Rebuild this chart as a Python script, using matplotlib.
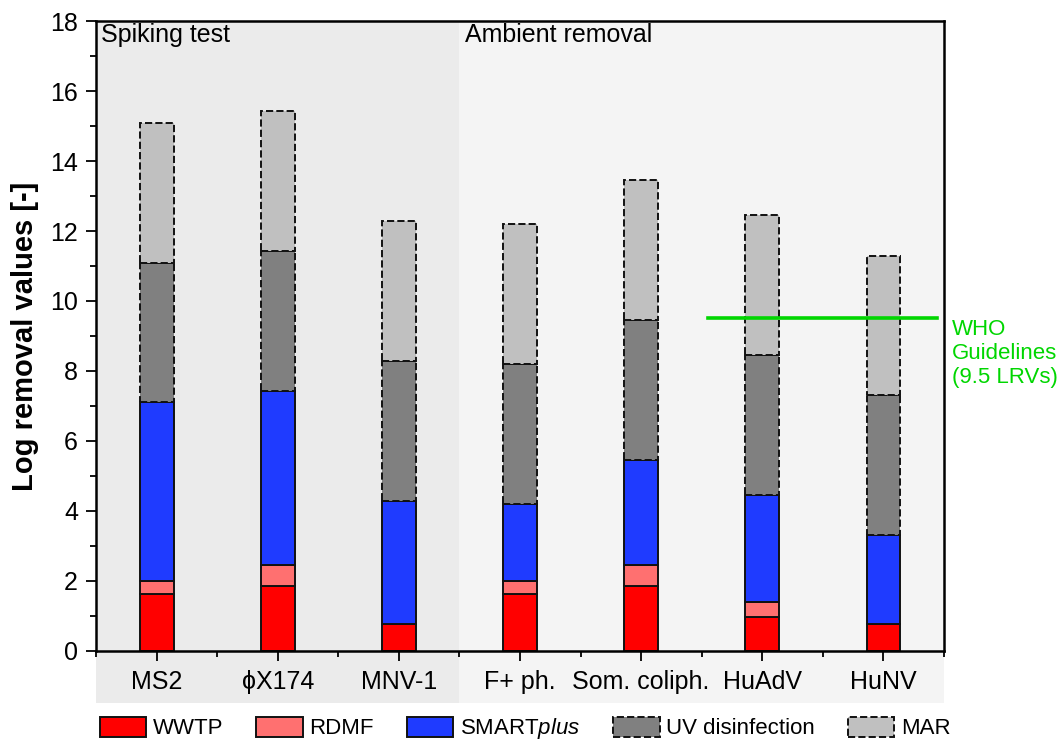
import numpy as np
import matplotlib
matplotlib.use("Agg")
import matplotlib.pyplot as plt
from matplotlib.patches import Patch

plt.rcParams["font.family"] = ["Liberation Sans", "DejaVu Sans"]
plt.rcParams["mathtext.fontset"] = "custom"
plt.rcParams["mathtext.rm"] = "Liberation Sans"
plt.rcParams["mathtext.it"] = "Liberation Sans:italic"

# data (log removal per treatment step, stacked)
categories = ["MS2", "\u03d5X174", "MNV-1", "F+ ph.", "Som. coliph.", "HuAdV", "HuNV"]
wwtp = [1.63, 1.86, 0.77, 1.63, 1.86, 0.98, 0.77]
rdmf = [0.37, 0.60, 0.00, 0.37, 0.60, 0.43, 0.00]
smartplus = [5.10, 4.98, 3.51, 2.20, 3.00, 3.06, 2.53]
uv = [4.0, 4.0, 4.0, 4.0, 4.0, 4.0, 4.0]
mar = [4.0, 4.0, 4.0, 4.0, 4.0, 4.0, 4.0]
who_lrv = 9.5

RED = "#ff0000"
SALMON = "#ff7070"
BLUE = "#1f3bff"
DARK = "#808080"
LIGHT = "#c0c0c0"
GREEN = "#00d600"
FS = 18

fig = plt.figure(figsize=(10.6, 7.4), dpi=100)
ax = fig.add_axes([0.0906, 0.1203, 0.8, 0.8513])

x = np.arange(len(categories))
w = 0.28

# shaded groups, extended under the tick labels
ax.axvspan(-0.5, 2.5, ymin=-0.083, ymax=1, color="#ebebeb", lw=0, clip_on=False, zorder=0)
ax.axvspan(2.5, 6.5, ymin=-0.083, ymax=1, color="#f4f4f4", lw=0, clip_on=False, zorder=0)

bottom = np.zeros(len(categories))
layers = [
    (wwtp, RED, "-", "WWTP"),
    (rdmf, SALMON, "-", "RDMF"),
    (smartplus, BLUE, "-", "SMART$\\mathit{plus}$"),
    (uv, DARK, "--", "UV disinfection"),
    (mar, LIGHT, "--", "MAR"),
]
handles = []
for vals, col, ls, lab in layers:
    vals = np.array(vals)
    mask = vals > 0
    ax.bar(x[mask], vals[mask], w, bottom=bottom[mask], color=col,
           edgecolor="#111111", linewidth=1.4, linestyle=ls, zorder=2)
    bottom += vals
    handles.append(Patch(facecolor=col, edgecolor="#111111", linewidth=1.4,
                         linestyle=ls, label=lab))

# WHO guideline
ax.plot([4.55, 6.44], [who_lrv, who_lrv], color=GREEN, lw=2.6, zorder=3)
ax.text(6.565, 8.5, "WHO\nGuidelines\n(9.5 LRVs)", color=GREEN, fontsize=16,
        ha="left", va="center", clip_on=False)

ax.text(-0.455, 17.41, "Spiking test", fontsize=FS, va="baseline")
ax.text(2.545, 17.41, "Ambient removal", fontsize=FS, va="baseline")

ax.set_xlim(-0.5, 6.5)
ax.set_ylim(0, 18)
ax.set_xticks(x)
ax.set_xticklabels(categories)
ax.set_xticks(np.arange(-0.5, 6.6, 1), minor=True)
ax.set_yticks(np.arange(0, 19, 2))
ax.set_yticks(np.arange(0, 19, 1), minor=True)
ax.tick_params(axis="both", which="major", direction="out", length=7, width=1.3,
               labelsize=FS, pad=6)
ax.tick_params(axis="both", which="minor", direction="out", length=4, width=1.3)
ax.tick_params(axis="x", which="major", pad=7)
ax.set_ylabel("Log removal values [-]", fontsize=21, fontweight="bold", labelpad=8)
ax.set_facecolor("none")
for s in ax.spines.values():
    s.set_linewidth(1.8)

fig.legend(handles=handles, loc="center", bbox_to_anchor=(0.4955, 0.015),
           ncol=5, frameon=False, fontsize=16, handlelength=2.1, handleheight=1.0,
           handletextpad=0.3, columnspacing=1.47, borderpad=0, borderaxespad=0)

fig.savefig("out.png", dpi=100)
